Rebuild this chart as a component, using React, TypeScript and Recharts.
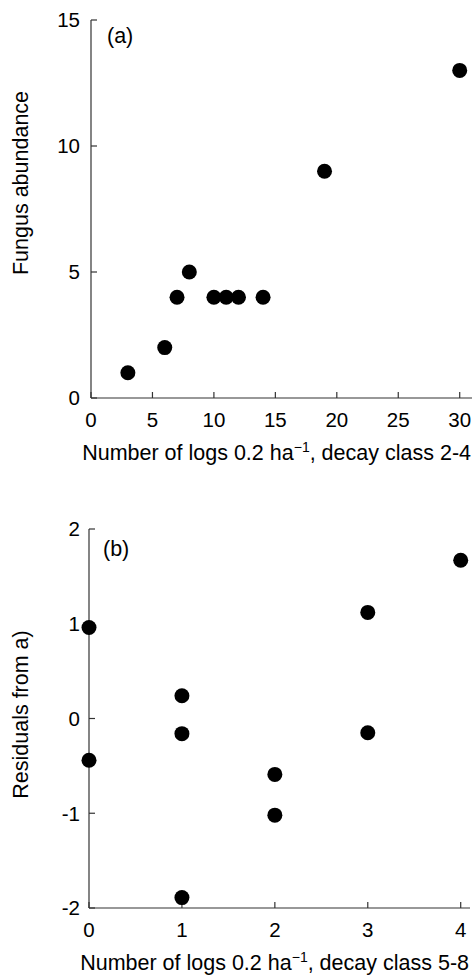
import React from "react";
import { ScatterChart, Scatter, XAxis, YAxis, Label, Customized } from "recharts";

// Panel (a): fungus abundance against logs of decay class 2-4
const logsClass2to4 = [3, 6, 7, 8, 10, 11, 12, 14, 19, 30];
const fungusAbundance = [1, 2, 4, 5, 4, 4, 4, 4, 9, 13];
const ticksA_x = [0, 5, 10, 15, 20, 25, 30];
const ticksA_y = [0, 5, 10, 15];

// Panel (b): residuals from (a) against logs of decay class 5-8
const logsClass5to8 = [0, 0, 1, 1, 1, 2, 2, 3, 3, 4];
const residuals = [0.96, -0.44, 0.24, -0.16, -1.89, -0.59, -1.02, 1.12, -0.15, 1.67];
const ticksB_x = [0, 1, 2, 3, 4];
const ticksB_y = [-2, -1, 0, 1, 2];

const pointsA = logsClass2to4.map((x, i) => ({ x, y: fungusAbundance[i] }));
const pointsB = logsClass5to8.map((x, i) => ({ x, y: residuals[i] }));

const FONT = "'Liberation Sans', Arial, Helvetica, sans-serif";
const INK = "#000";
const AXIS = { stroke: "#333", strokeWidth: 1.2 };
const TICK = { fill: INK, fontSize: 20.5, fontFamily: FONT };
const TITLE_SIZE = 21.5;

const Dot = (props: any) => <circle cx={props.cx} cy={props.cy} r={7.5} fill="#000" />;

const xTitle = (suffix: string) => (props: any) => {
  const vb = props.viewBox || { x: 0, y: 0, width: 0, height: 0 };
  return (
    <text
      x={vb.x + vb.width - 1}
      y={vb.y + 62}
      textAnchor="end"
      fill={INK}
      fontSize={TITLE_SIZE}
      fontFamily={FONT}
    >
      Number of logs 0.2 ha
      <tspan dy={-8} fontSize={14}>
        −1
      </tspan>
      <tspan dy={8}>{`, decay class ${suffix}`}</tspan>
    </text>
  );
};

const yTitle = (text: string, shift: number) => (props: any) => {
  const vb = props.viewBox || { x: 0, y: 0, width: 0, height: 0 };
  const cx = vb.x + 21;
  const cy = vb.y + vb.height / 2 + shift;
  return (
    <text
      x={cx}
      y={cy}
      transform={`rotate(-90 ${cx} ${cy})`}
      textAnchor="middle"
      dominantBaseline="central"
      fill={INK}
      fontSize={TITLE_SIZE}
      fontFamily={FONT}
    >
      {text}
    </text>
  );
};

const panelTag = (text: string, x: number, y: number) => () => (
  <text x={x} y={y} fill={INK} fontSize={TITLE_SIZE} fontFamily={FONT}>
    {text}
  </text>
);

export default function App() {
  return (
    <div style={{ position: "absolute", left: 0, top: 0, width: 475, height: 976, background: "#fff" }}>
      <ScatterChart width={475} height={475} margin={{ top: 20, right: 3, bottom: 0, left: 0 }}>
        <XAxis
          type="number"
          dataKey="x"
          domain={[0, 31]}
          ticks={ticksA_x}
          axisLine={AXIS}
          tickLine={AXIS}
          tickSize={-6}
          tickMargin={20}
          tick={TICK}
          height={77}
          label={<Label content={xTitle("2-4")} />}
        />
        <YAxis
          type="number"
          dataKey="y"
          domain={[0, 15]}
          ticks={ticksA_y}
          axisLine={AXIS}
          tickLine={AXIS}
          tickSize={-6}
          tickMargin={17}
          tick={TICK}
          width={91}
          label={<Label content={yTitle("Fungus abundance", -26)} />}
        />
        <Scatter data={pointsA} shape={Dot} isAnimationActive={false} />
        <Customized component={panelTag("(a)", 107, 43)} />
      </ScatterChart>
      <ScatterChart width={475} height={501} margin={{ top: 54, right: 5, bottom: 0, left: 0 }}>
        <XAxis
          type="number"
          dataKey="x"
          domain={[0, 4.1]}
          ticks={ticksB_x}
          axisLine={AXIS}
          tickLine={AXIS}
          tickSize={-6}
          tickMargin={20}
          tick={TICK}
          height={68}
          label={<Label content={xTitle("5-8")} />}
        />
        <YAxis
          type="number"
          dataKey="y"
          domain={[-2, 2]}
          ticks={ticksB_y}
          axisLine={AXIS}
          tickLine={AXIS}
          tickSize={-6}
          tickMargin={15}
          tick={TICK}
          width={89}
          label={<Label content={yTitle("Residuals from a)", -4)} />}
        />
        <Scatter data={pointsB} shape={Dot} isAnimationActive={false} />
        <Customized component={panelTag("(b)", 103, 556 - 475)} />
      </ScatterChart>
    </div>
  );
}
